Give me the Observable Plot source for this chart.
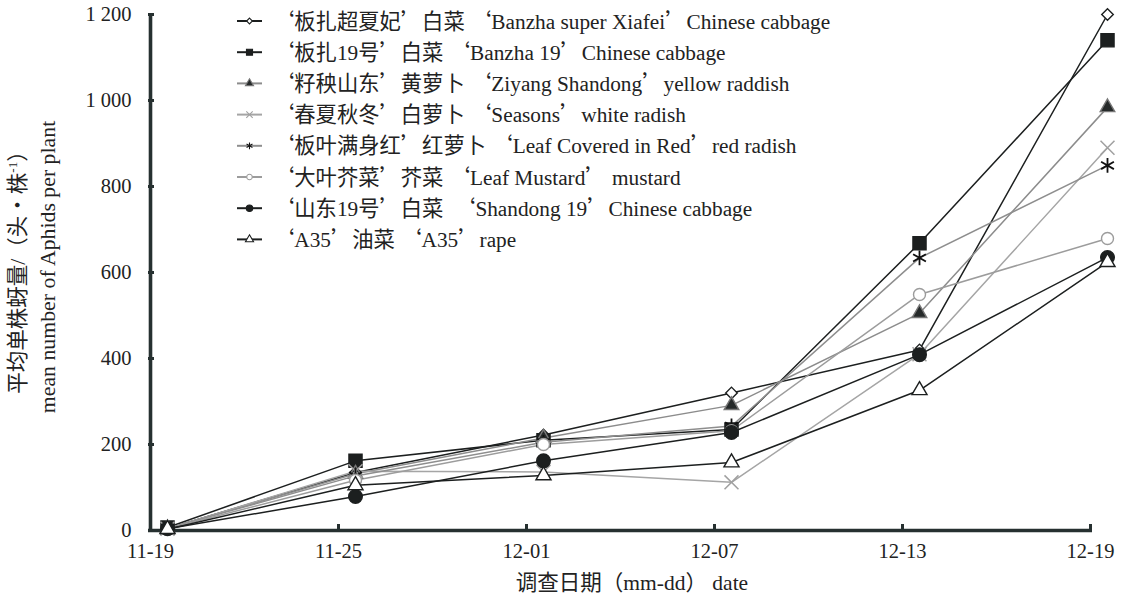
<!DOCTYPE html>
<html><head><meta charset="utf-8">
<script src="https://cdn.jsdelivr.net/npm/d3@7"></script>
<script src="https://cdn.jsdelivr.net/npm/@observablehq/plot@0.6"></script>
<style>body{margin:0;background:#fff}</style>
</head><body><div id="chart"></div>
<script>
// ---- data ----
const dates = ["11-19", "11-25", "12-01", "12-07", "12-13", "12-19"];
const yTicks = [0, 200, 400, 600, 800, 1000, 1200];
const banzhaSuper = [5, 135, 222, 320, 420, 1200];
const banzha19    = [7, 162, 210, 235, 668, 1140];
const ziyang      = [5, 132, 215, 291, 505, 984];
const seasons     = [4, 138, 136, 112, 410, 890];
const leafRed     = [5, 127, 205, 243, 634, 849];
const mustard     = [4, 117, 200, 232, 549, 679];
const shandong19  = [4, 79, 162, 228, 409, 635];
const a35         = [3, 105, 128, 158, 326, 624];
const legendLabels = [
  "‘板扎超夏妃’白菜 ‘Banzha super Xiafei’Chinese cabbage",
  "‘板扎19号’白菜 ‘Banzha 19’Chinese cabbage",
  "‘籽秧山东’黄萝卜 ‘Ziyang Shandong’yellow raddish",
  "‘春夏秋冬’白萝卜 ‘Seasons’white radish",
  "‘板叶满身红’红萝卜 ‘Leaf Covered in Red’red radish",
  "‘大叶芥菜’芥菜 ‘Leaf Mustard’ mustard",
  "‘山东19号’白菜  ‘Shandong 19’Chinese cabbage",
  "‘A35’油菜 ‘A35’rape"
];
const xTitle = "调查日期（mm-dd） date";
const yTitleZh = ["平均单株蚜量/（头·株", "-1", "）"];
const yTitleEn = "mean number of Aphids per plant";

// ---- styles ----
const DARK = "#1c1f1f";
const styles = [
  {values: banzhaSuper, symbol: "diamond2", line: DARK, fill: "white", stroke: DARK, r: 5.2, lr: 2.6, sw: 1.4},
  {values: banzha19, symbol: "square", line: DARK, fill: DARK, stroke: DARK, r: 7.4, lr: 3.4, sw: 1.4},
  {values: ziyang, symbol: "triangle", line: "#8c8c8c", fill: "#262a2a", stroke: "#777", r: 5.4, lr: 3, sw: 1.4},
  {values: seasons, symbol: "times", line: "#a5a5a5", fill: "none", stroke: "#a0a0a0", r: 6.4, lr: 3, sw: 1.5},
  {values: leafRed, symbol: "asterisk", line: "#8e8e8e", fill: "none", stroke: "#111", r: 7, lr: 3.2, sw: 1.8},
  {values: mustard, symbol: "circle", line: "#9c9c9c", fill: "white", stroke: "#9c9c9c", r: 6, lr: 2.8, sw: 1.4},
  {values: shandong19, symbol: "circle", line: DARK, fill: DARK, stroke: DARK, r: 6.8, lr: 3.2, sw: 1.4},
  {values: a35, symbol: "triangle", line: DARK, fill: "white", stroke: DARK, r: 5.6, lr: 3, sw: 1.4}
];

const SERIF = "'Liberation Serif', 'Times New Roman', serif";
const CJK = "'Noto Sans CJK SC', sans-serif";
const W = 1129, H = 600;
const mL = 148, mR = 37, mT = 14, mB = 70;
const DX = 17;
const AXIS = "#263030";

const marks = [];
styles.forEach((s) => {
  const rows = s.values.map((v, j) => ({date: dates[j], value: v}));
  marks.push(Plot.line(rows, {x: "date", y: "value", stroke: s.line, strokeWidth: 1.5, dx: DX}));
});
styles.forEach((s) => {
  const rows = s.values.map((v, j) => ({date: dates[j], value: v}));
  marks.push(Plot.dot(rows, {x: "date", y: "value", symbol: s.symbol, r: s.r, fill: s.fill, stroke: s.stroke, strokeWidth: s.sw, dx: DX}));
});

const fmt = d3.formatLocale({thousands: " ", grouping: [3], decimal: "."}).format(",");

const chart = Plot.plot({
  width: W, height: H,
  marginLeft: mL, marginRight: mR, marginTop: mT, marginBottom: mB,
  style: {fontFamily: SERIF, fontSize: "20.5px", color: "#222", background: "white"},
  x: {type: "point", domain: dates, padding: 0},
  y: {domain: [0, 1200]},
  marks: [
    Plot.axisY({ticks: yTicks, tickSize: 6, dx: 6, tickFormat: () => "", stroke: AXIS, strokeWidth: 3, label: null}),
    Plot.axisY({ticks: yTicks, tickSize: 0, tickPadding: 17, tickFormat: fmt, label: null, fontSize: 20.5, fill: "#222"}),
    Plot.axisX({ticks: dates, tickSize: 6, dy: -6, tickFormat: () => "", stroke: AXIS, strokeWidth: 3, label: null}),
    Plot.axisX({ticks: dates, tickSize: 0, tickPadding: 13, label: null, fontSize: 20.5, fill: "#222"}),
    Plot.ruleY([0], {stroke: AXIS, strokeWidth: 3.6}),
    Plot.ruleX([dates[0]], {stroke: AXIS, strokeWidth: 3.6}),
    ...marks
  ]
});

const svg = d3.select(chart);
const isCJK = ch => /[\u2018\u2019\u3000-\u9fff\uff00-\uffef·]/.test(ch);
function addRuns(textSel, str) {
  let runs = [];
  for (const ch of str) {
    const c = isCJK(ch);
    if (runs.length && runs[runs.length - 1].c === c) runs[runs.length - 1].t += ch;
    else runs.push({c, t: ch});
  }
  runs.forEach(r => textSel.append("tspan").style("font-family", r.c ? CJK : SERIF).text(r.t));
}

// axis titles
const xt = svg.append("text")
  .attr("transform", "translate(632,590)")
  .attr("text-anchor", "middle").attr("font-size", 21.5)
  .style("font-size", "21.5px").style("white-space", "pre").attr("fill", "#222");
addRuns(xt, xTitle);

const yl1 = svg.append("text")
  .attr("transform", "translate(25,267) rotate(-90)")
  .attr("text-anchor", "middle").attr("font-size", 21.5).style("font-size", "21.5px").attr("fill", "#222");
addRuns(yl1, yTitleZh[0]);
yl1.append("tspan").attr("dy", -8).style("font-family", SERIF).style("font-size", "13px").text(yTitleZh[1]);
yl1.append("tspan").attr("dy", 8).style("font-family", CJK).text(yTitleZh[2]);

svg.append("text")
  .attr("transform", "translate(55,267) rotate(-90)")
  .attr("text-anchor", "middle").attr("font-size", 21.8).style("font-size", "21.8px")
  .style("font-family", SERIF).attr("fill", "#222")
  .text(yTitleEn);

// legend
const symMap = {diamond2: d3.symbolDiamond2, square: d3.symbolSquare, triangle: d3.symbolTriangle,
  times: d3.symbolTimes, asterisk: d3.symbolAsterisk, circle: d3.symbolCircle};
const lg = svg.append("g");
styles.forEach((s, i) => {
  const y = 21 + i * 31.2;
  const g = lg.append("g").attr("transform", `translate(0,${y})`);
  g.append("line").attr("x1", 237).attr("x2", 262).attr("y1", 0).attr("y2", 0)
    .attr("stroke", s.line).attr("stroke-width", 2);
  g.append("path").attr("transform", "translate(249.5,0)")
    .attr("d", d3.symbol(symMap[s.symbol], Math.PI * s.lr * s.lr)())
    .attr("fill", s.fill).attr("stroke", s.stroke).attr("stroke-width", 1.1);
  const t = g.append("text").attr("x", 273).attr("y", 0).attr("dy", "0.36em")
    .attr("text-anchor", "start").attr("font-size", 21.3).style("font-size", "21.3px")
    .style("white-space", "pre").attr("fill", "#222");
  addRuns(t, legendLabels[i]);
});

document.getElementById("chart").appendChild(chart);
</script>
</body></html>
